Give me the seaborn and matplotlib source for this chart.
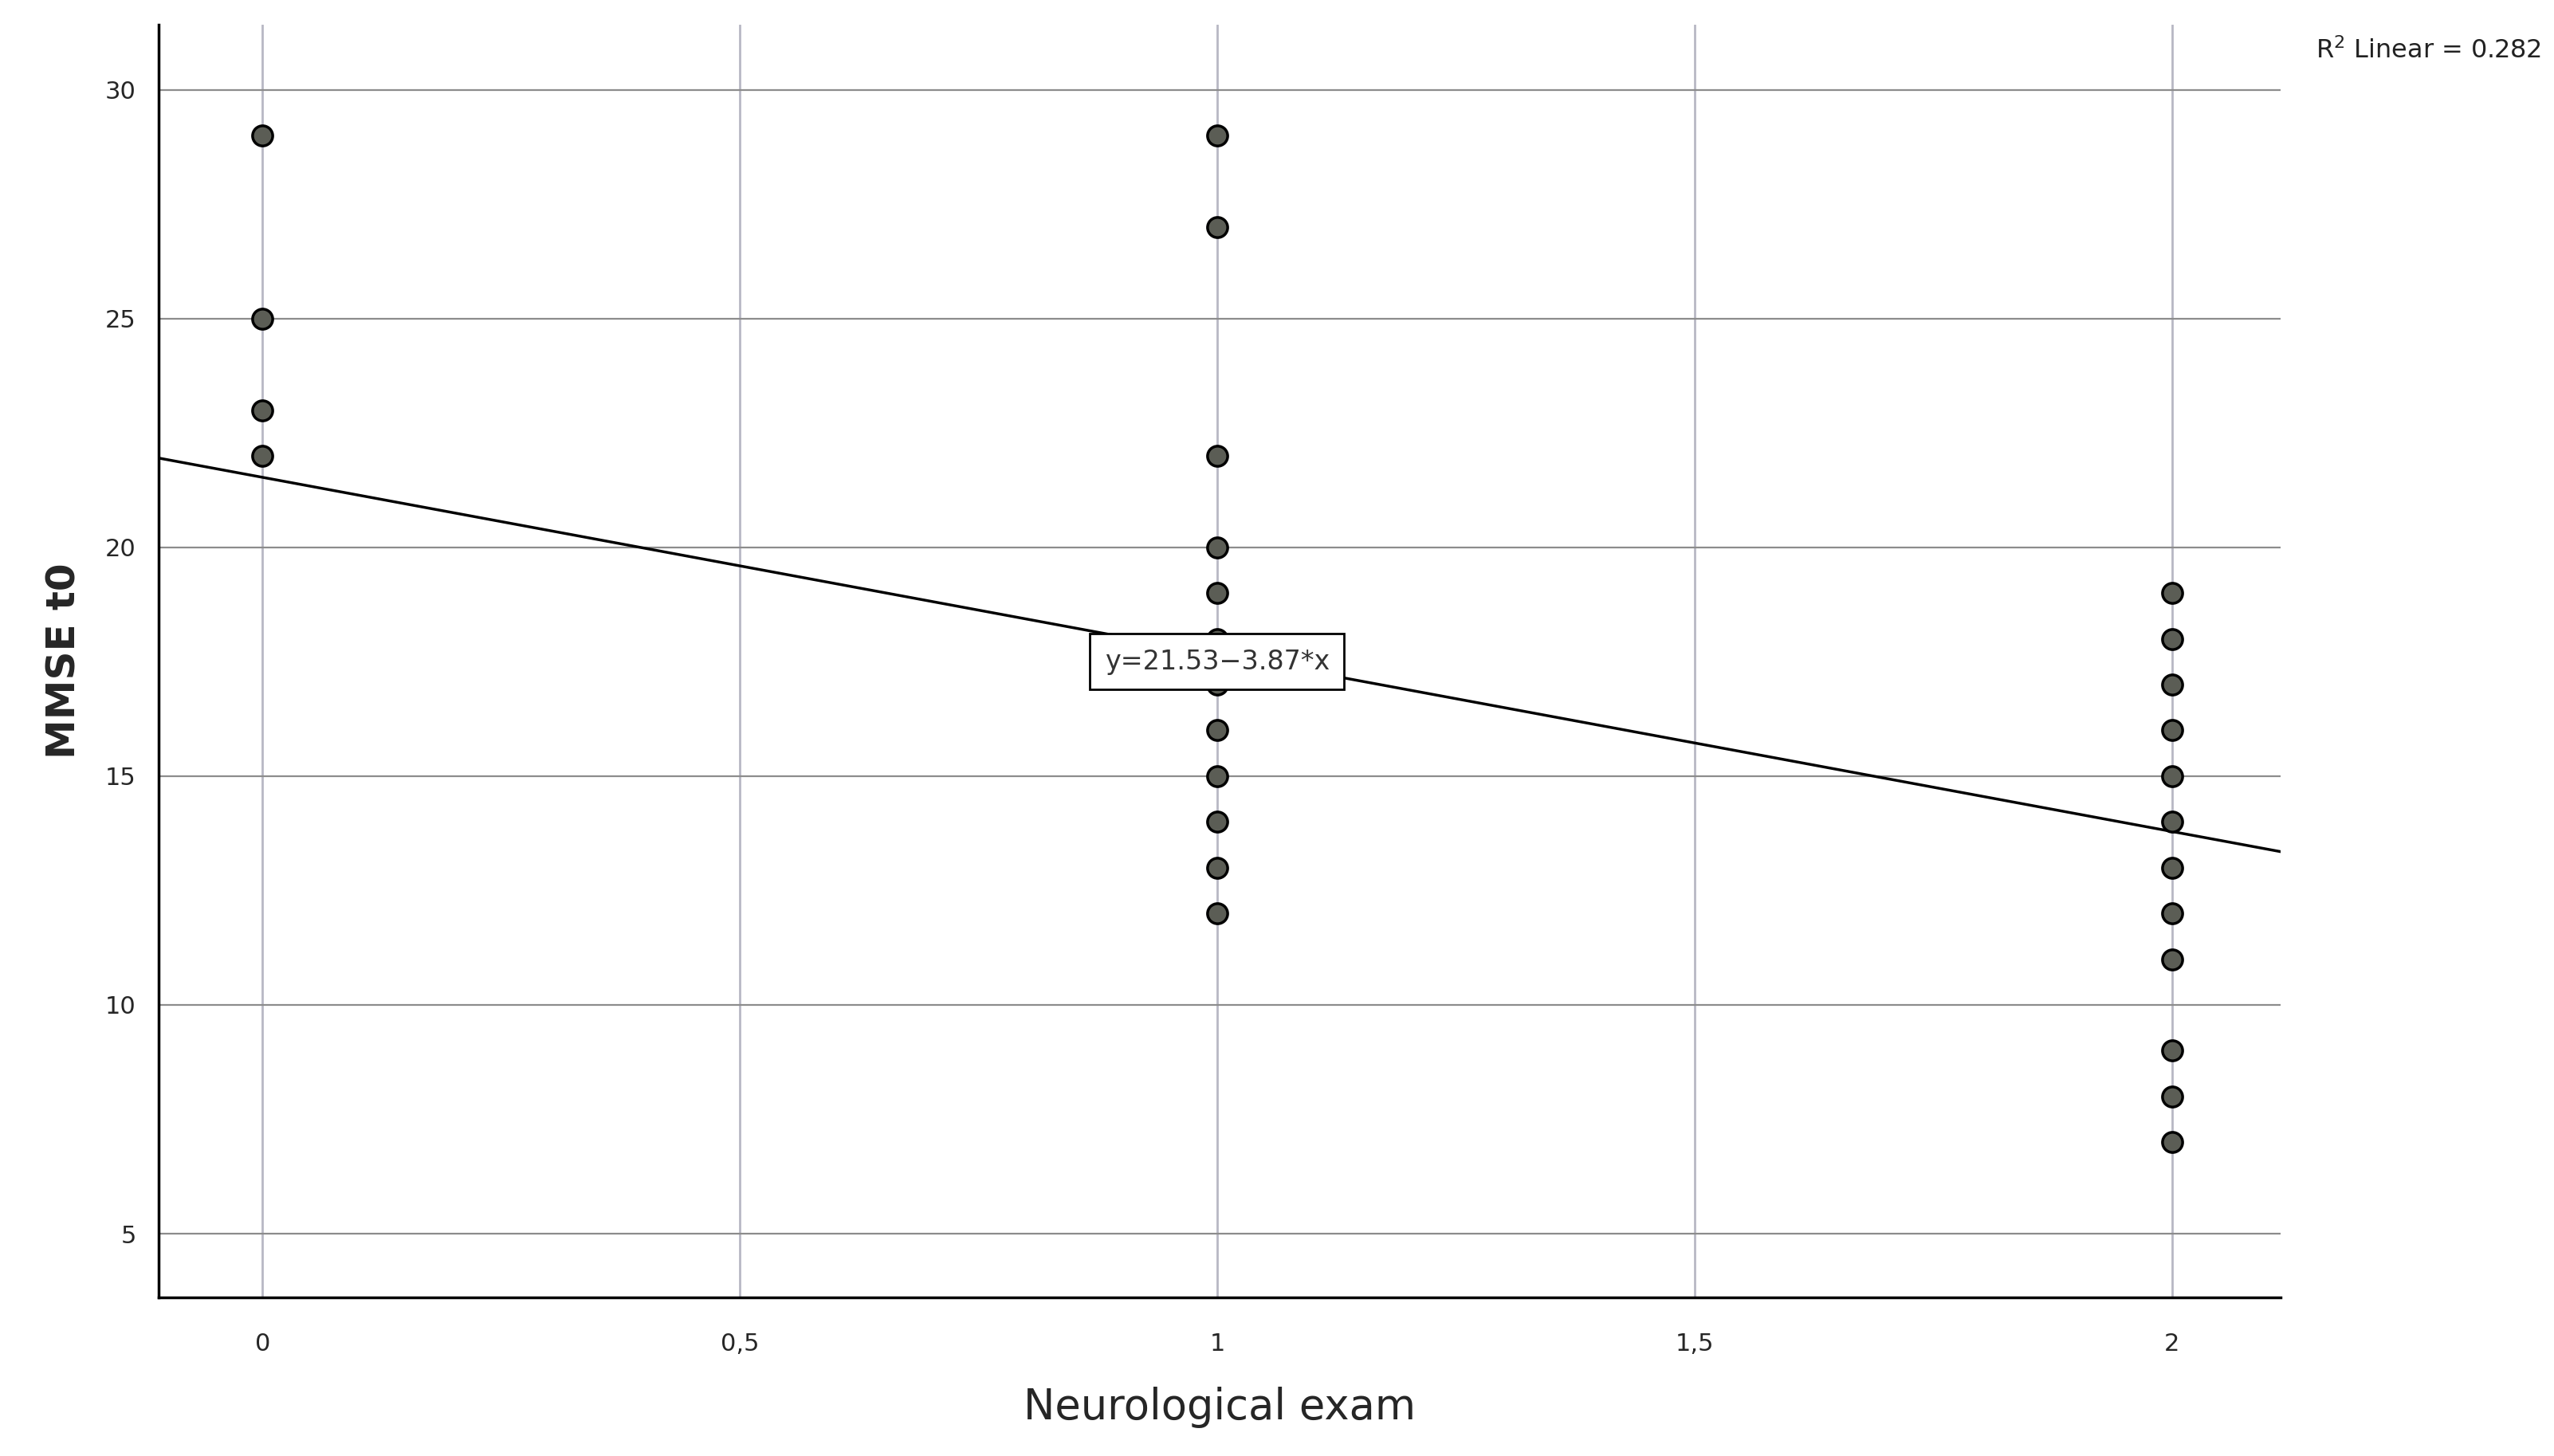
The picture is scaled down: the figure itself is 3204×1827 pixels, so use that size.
import matplotlib
matplotlib.use("Agg")
import matplotlib.pyplot as plt
import seaborn as sns
import numpy as np
import pandas as pd

x_vals = [0, 0, 0, 0,
          1, 1, 1, 1, 1, 1, 1, 1, 1, 1, 1, 1,
          2, 2, 2, 2, 2, 2, 2, 2, 2, 2, 2, 2]
mmse = [29, 25, 23, 22,
        29, 27, 22, 20, 19, 18, 17, 16, 15, 14, 13, 12,
        19, 18, 17, 16, 15, 14, 13, 12, 11, 9, 8, 7]
intercept = 21.53
slope = -3.87
r2 = 0.282
xticks = [0, 0.5, 1, 1.5, 2]
xticklabels = ["0", "0,5", "1", "1,5", "2"]
yticks = [5, 10, 15, 20, 25, 30]

df = pd.DataFrame({"Neurological exam": x_vals, "MMSE t0": mmse})

sns.set_theme(style="white")
fig = plt.figure(figsize=(32.04, 18.27), dpi=100)
ax = fig.add_axes([0.062, 0.109, 0.831, 0.874])

xlim = (-0.109, 2.114)
ylim = (3.61, 31.42)
for t in xticks:
    ax.axvline(t, color="#b8b8c4", lw=2, zorder=0)
for t in yticks:
    ax.axhline(t, color="#8c8c8c", lw=1.6, zorder=0)

xx = np.array(xlim)
ax.plot(xx, intercept + slope * xx, color="black", lw=2.5, zorder=2)

sns.scatterplot(data=df, x="Neurological exam", y="MMSE t0", ax=ax,
                s=330, color="#5b5d55", edgecolor="black", linewidth=2.5, zorder=3)

ax.text(1, 17.5, f"y={intercept:.2f}{slope:.2f}*x".replace("-", "\u2212"),
        ha="center", va="center", fontsize=24, color="#333333", zorder=4,
        bbox=dict(boxstyle="square,pad=0.55", fc="white", ec="black", lw=2))
fig.text(0.995, 0.965, f"R$^2$ Linear = {r2:.3f}", ha="right", va="center",
         fontsize=23, color="#222222")

ax.set_xlim(*xlim)
ax.set_ylim(*ylim)
ax.set_xticks(xticks)
ax.set_xticklabels(xticklabels, fontsize=22)
ax.set_yticks(yticks)
ax.tick_params(axis="y", labelsize=22, pad=14)
ax.tick_params(axis="x", pad=26)
ax.set_xlabel("Neurological exam", fontsize=38, labelpad=28)
ax.set_ylabel("MMSE t0", fontsize=36, fontweight="bold", labelpad=20)
for s in ["top", "right"]:
    ax.spines[s].set_visible(False)
for s in ["left", "bottom"]:
    ax.spines[s].set_color("black")
    ax.spines[s].set_linewidth(2.5)

fig.savefig("out.png", dpi=100)
